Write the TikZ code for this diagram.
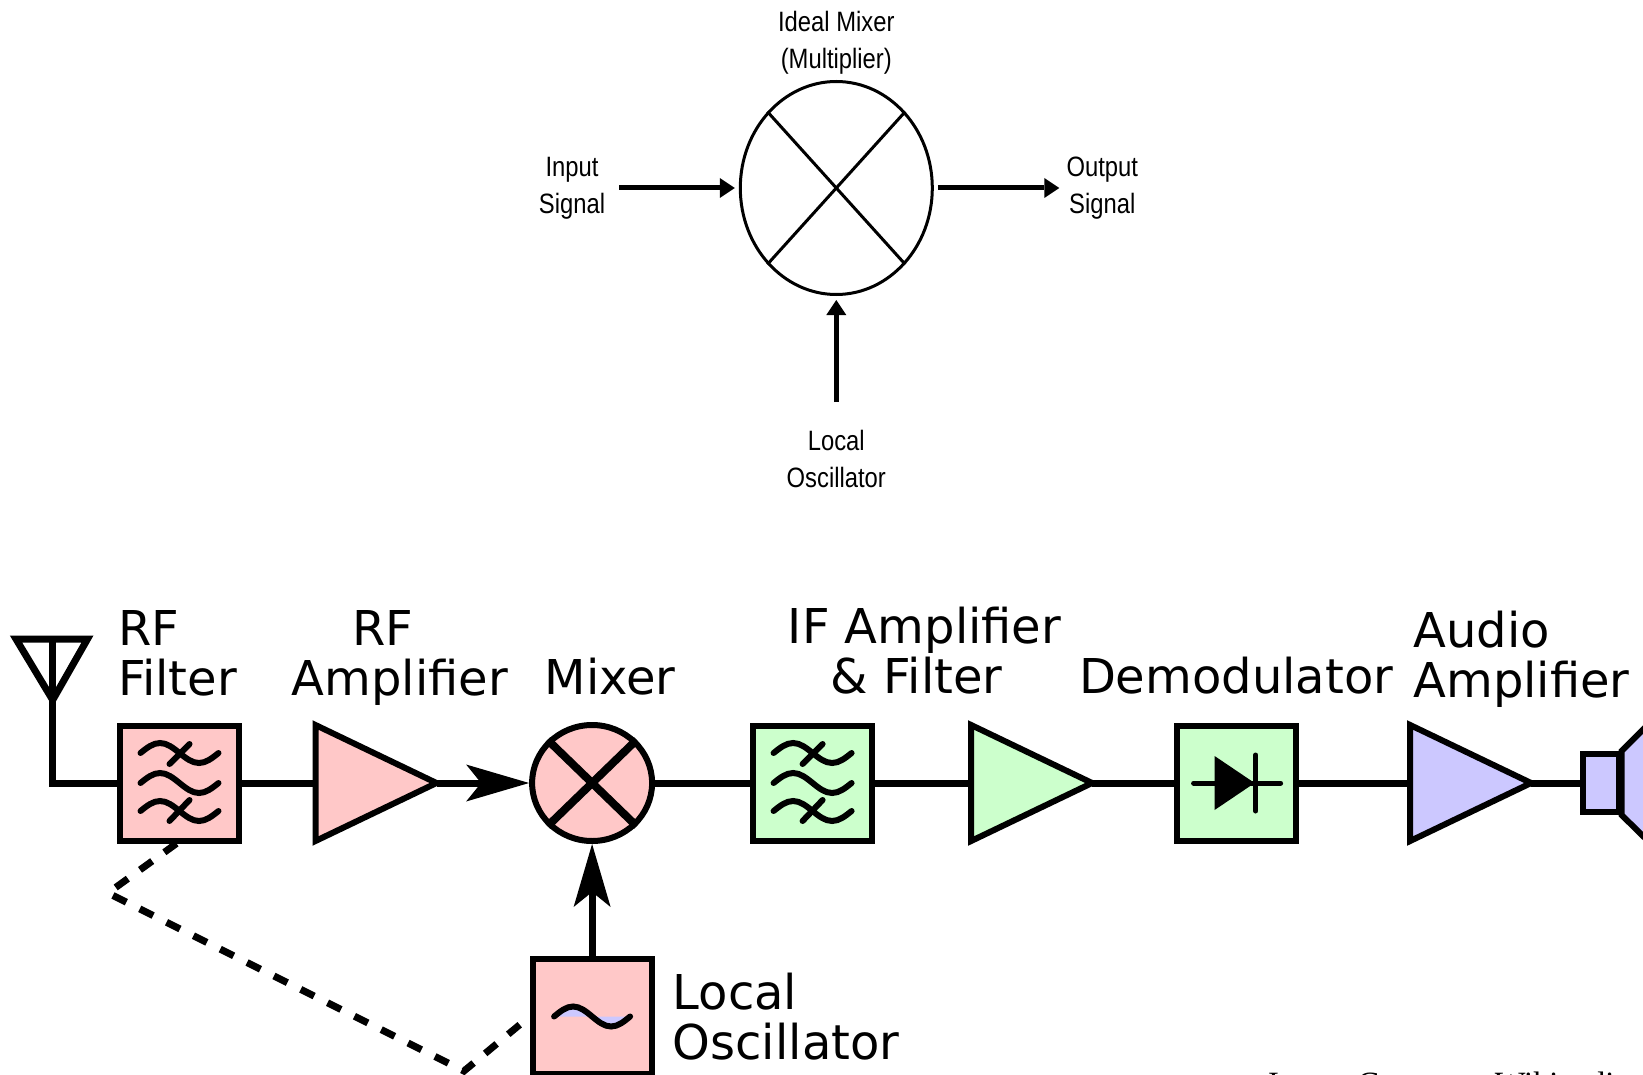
\documentclass[tikz,border=0pt]{standalone}
\usepackage{fontspec}
\usepackage{xcolor}
\usetikzlibrary{positioning, calc, shapes.geometric, arrows.meta}
\newfontfamily\blockfont{DejaVu Sans}
\newfontfamily\idealfont[FakeStretch=0.85]{Liberation Sans}
\newfontfamily\notefont{Liberation Serif}
\definecolor{lpink}{RGB}{255,200,200}
\definecolor{lgreen}{RGB}{204,255,204}
\definecolor{lviolet}{RGB}{204,200,255}
\tikzstyle{Block} = [
draw,
line width=6pt,
minimum width=119pt,
minimum height=115pt]
\tikzstyle{Amp} = [
draw,
line width=6pt,
isosceles triangle,
isosceles triangle stretches,
shape border rotate=0,
inner sep=0pt,
outer sep=0pt,
minimum width=116pt,
minimum height=121pt]
\tikzstyle{Wire} = [line width=7pt]
\tikzstyle{ArrowBig} = [
line width=7pt,
-{Stealth[length=63pt, width=37pt, inset=15pt, line width=0pt]}]
\tikzstyle{ArrowThin} = [
line width=5pt,
-{Triangle[length=15pt, width=20pt, line width=0pt]}]
\tikzstyle{BlockLabel} = [
inner sep=0pt,
font=\blockfont\fontsize{48}{50}\selectfont]
\tikzstyle{IdealLabel} = [
inner sep=0pt,
align=center,
font=\idealfont\fontsize{28}{37}\selectfont]
\tikzset{
    wavesym/.pic={
        \draw[line width=6pt, line cap=round] (-39,0) sin (-19.5,-10) cos (0,0) sin (19.5,10) cos (39,0);
    },
    filtersym/.pic={
        \pic at (0,-30) {wavesym};
        \pic at (0,0) {wavesym};
        \pic at (0,28) {wavesym};
        \draw[line width=6pt, line cap=round] (10,-39) -- (-10,-19) (10,17) -- (-10,38);
    }
}

\begin{document}
\begin{tikzpicture}[x=1pt, y=-1pt]
    \useasboundingbox (0,0) rectangle (1643,1075);

    % ideal mixer
    \node [draw, ellipse, line width=3pt, inner sep=0pt, minimum width=192pt, minimum height=213pt] (ideal) at (836.3,188) {};
    \node [IdealLabel, above=5.5pt of ideal] (ideallabel) {Ideal Mixer\\(Multiplier)};
    \node [IdealLabel, left=133.5pt of ideal] (inputlabel) {Input\\Signal};
    \node [IdealLabel, right=132.5pt of ideal] (outputlabel) {Output\\Signal};
    \node [IdealLabel, below=134pt of ideal] (locallabel) {Local\\Oscillator};

    \draw[line width=3pt] (ideal.north west) -- (ideal.south east);
    \draw[line width=3pt] (ideal.north east) -- (ideal.south west);
    \draw[ArrowThin, shorten <=14pt, shorten >=4pt] (inputlabel) -- (ideal);
    \draw[ArrowThin, shorten <=4pt, shorten >=7pt] (ideal) -- (outputlabel);
    \draw[ArrowThin, shorten <=28pt, shorten >=4pt] (locallabel) -- (ideal);

    % receiver chain
    \node [Block, fill=lpink] (rffilter) at (179.5,783) {};
    \node [Amp, fill=lpink, right=73.5pt of rffilter] (rfamp) {};
    \node [draw, ellipse, line width=6pt, fill=lpink, inner sep=0pt, minimum width=120pt, minimum height=116pt, right=92.6pt of rfamp] (mixer) {};
    \node [Block, fill=lgreen, right=95pt of mixer] (iffilter) {};
    \node [Amp, fill=lgreen, right=96pt of iffilter] (ifamp) {};
    \node [Block, fill=lgreen, right=82pt of ifamp] (demod) {};
    \node [Amp, fill=lviolet, right=111pt of demod] (audioamp) {};
    \node [draw, line width=6pt, fill=lviolet, minimum width=36pt, minimum height=58pt, right=48.5pt of audioamp] (speaker) {};
    \node [Block, fill=lpink, below=112pt of mixer] (lo) {};
    \coordinate (antbase) at (52.7,639);
    \coordinate (antapex) at (52.7,700);
    \coordinate (dashbend1) at (108,893);
    \coordinate (dashbend2) at (464,1071);

    \draw[line width=7pt, line join=miter] (16,639) -- (87.5,639) -- (antapex) -- cycle;
    \draw[Wire] (antbase) |- (rffilter.west);
    \draw[Wire] (rffilter) -- (rfamp.west);
    \draw[ArrowBig] (rfamp.east) -- (mixer.west);
    \draw[Wire] (mixer) -- (iffilter);
    \draw[Wire] (iffilter) -- (ifamp.west);
    \draw[Wire] (ifamp.east) -- (demod);
    \draw[Wire] (demod) -- (audioamp.west);
    \draw[Wire] (audioamp.east) -- (speaker);
    \draw[ArrowBig] (lo) -- (mixer);
    \draw[line width=7pt, dash pattern=on 15pt off 15pt] (rffilter.south) ++(-3,0) -- (dashbend1) -- (dashbend2) -- (lo.west);

    % symbols inside the blocks
    \draw[line width=8pt] (mixer.north west) -- (mixer.south east);
    \draw[line width=8pt] (mixer.north east) -- (mixer.south west);
    \pic at (rffilter) {filtersym};
    \pic at (iffilter) {filtersym};
    \draw[line width=6pt, line cap=round, fill=lviolet] ($(lo)+(-38,0)$) sin ++(19,-10) cos ++(19,10) sin ++(19,10) cos ++(19,-10);
    \draw[line width=5pt, line cap=round] ($(demod)+(-43,0)$) -- ($(demod)+(44,0)$);
    \draw[line width=5pt, line cap=round] ($(demod)+(19,-28)$) -- ($(demod)+(19,28)$);
    \fill ($(demod)+(-22,-27)$) -- ($(demod)+(18,0)$) -- ($(demod)+(-22,27)$) -- cycle;

    % speaker cone
    \draw[line width=6pt, fill=lviolet] (speaker.north east) -- ++(60,-60) -- ++(0,183) -- (speaker.south east) -- cycle;

    % labels
    \node [BlockLabel, align=left, above=26.4pt of rffilter, xshift=-2pt] (rffilterlabel) {RF\\Filter};
    \node [BlockLabel, align=left, above=37pt of rfamp, xshift=47.8pt] (rfamplabel) {\hspace*{60.5pt}RF\\Amplifier};
    \node [BlockLabel, above=27pt of mixer, xshift=18pt] (mixerlabel) {Mixer};
    \node [BlockLabel, align=center, above=28.5pt of iffilter, xshift=112pt] (iflabel) {IF Amplifier\\\& Filter\hspace*{16pt}};
    \node [BlockLabel, above=28pt of demod, xshift=-0.5pt] (demodlabel) {Demodulator};
    \node [BlockLabel, align=left, above=35pt of audioamp, xshift=74.9pt] (audiolabel) {Audio\\Amplifier};
    \node [BlockLabel, align=left, right=18pt of lo] (lolabel) {Local\\Oscillator};
    \node [anchor=north west, inner sep=0pt, font=\notefont\fontsize{32.5}{38}\selectfont] (note) at (1268,1072) {Image Courtesy: Wikipedia};
\end{tikzpicture}
\end{document}
